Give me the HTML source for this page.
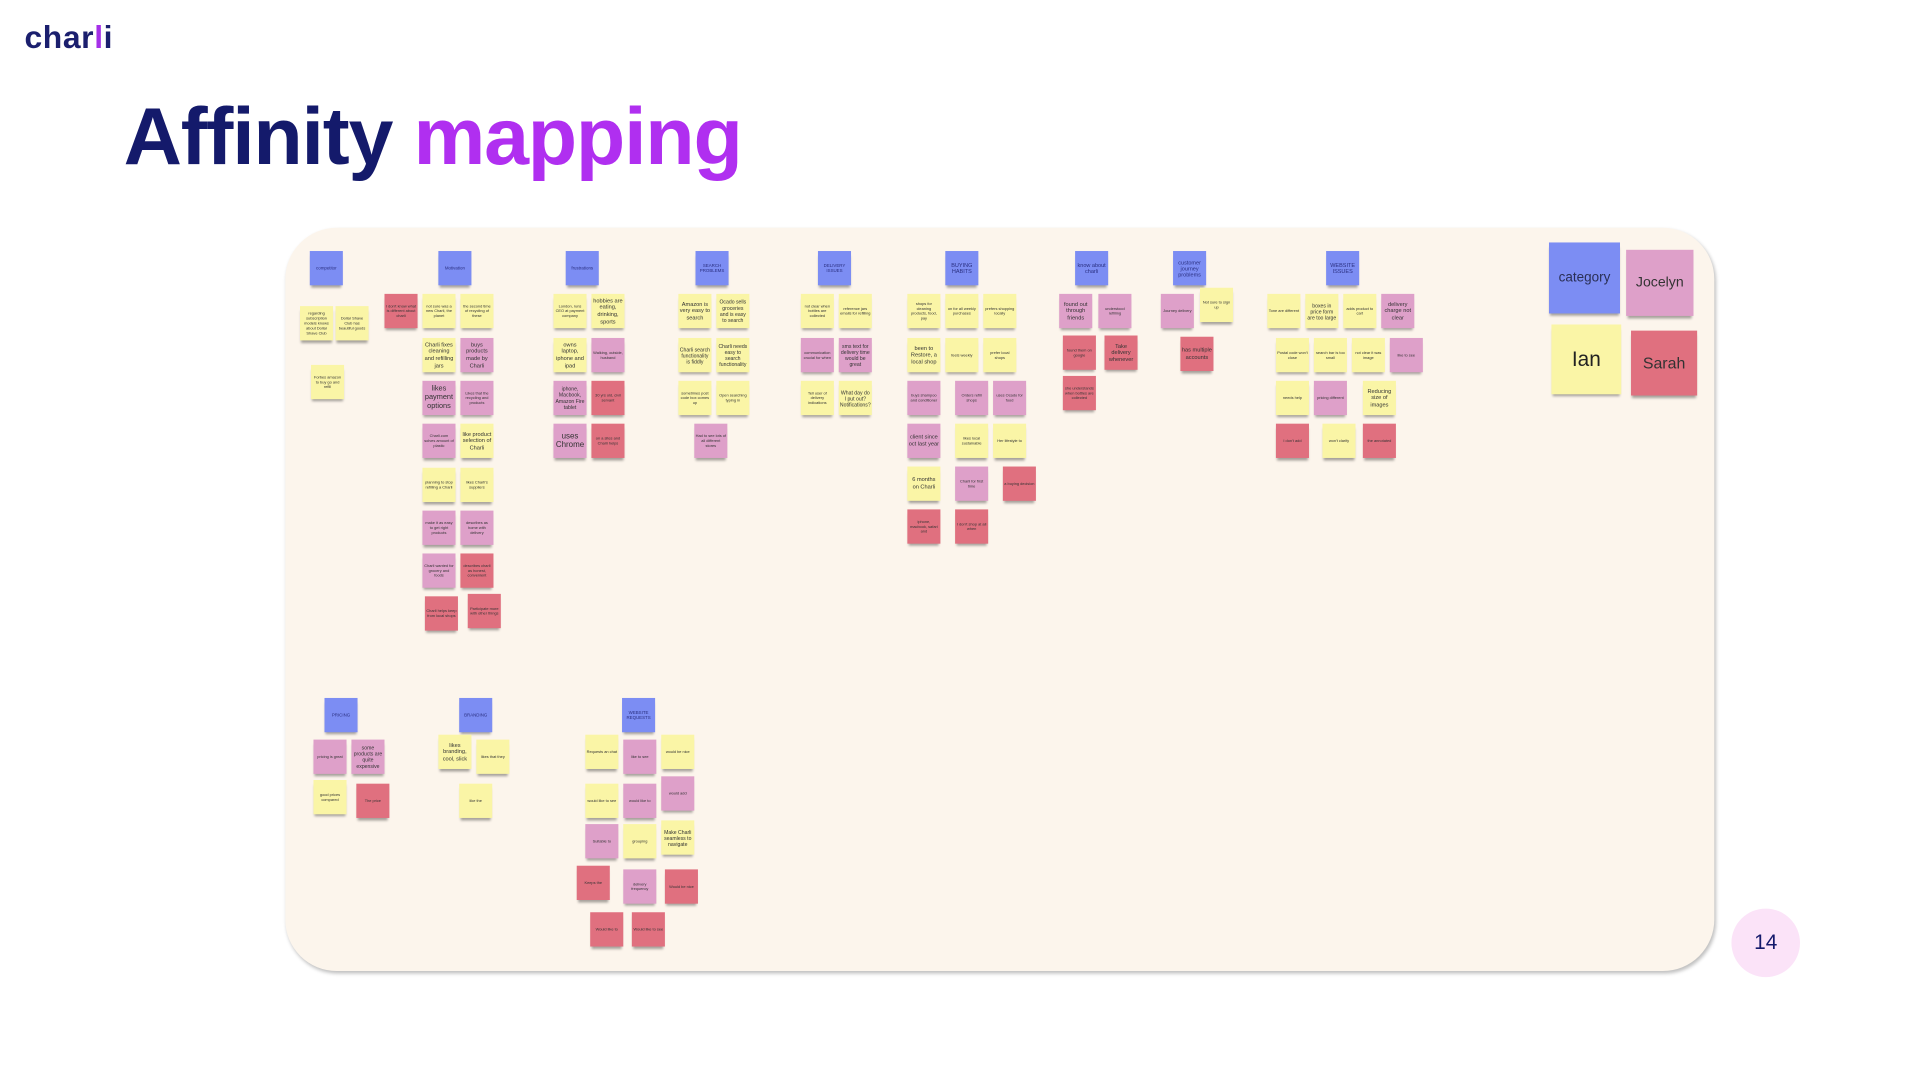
<!DOCTYPE html>
<html><head><meta charset="utf-8"><style>
html,body{margin:0;padding:0;background:#fff;width:1920px;height:1080px;overflow:hidden}
#w{position:absolute;left:0;top:0;width:1568px;height:882px;transform:scale(1.22449);transform-origin:0 0;font-family:"Liberation Sans",sans-serif}
.logo{position:absolute;left:20px;top:15px;font-size:26px;font-weight:bold;color:#1b1f6e;letter-spacing:0.5px}
.logo span{color:#a530e8}
.title{position:absolute;left:101px;top:73px;font-size:66px;font-weight:bold;color:#141a6b;letter-spacing:-1px;white-space:nowrap}
.title span{color:#b02ff0}
.board{position:absolute;left:233px;top:186px;width:1167px;height:607px;background:#fcf5ec;border-radius:42px;box-shadow:1px 2px 3px rgba(0,0,0,.25)}
.s{position:absolute;width:27px;height:28px;box-shadow:0 3px 2px -1px rgba(0,0,0,.35);font-size:3.2px;line-height:4px;color:#333;text-align:center;display:flex;align-items:center;justify-content:center;overflow:hidden;padding:1px;box-sizing:border-box}
.y{background:#faf5a6}.p{background:#dea0c9}.r{background:#e0707f}.b{background:#7c8df3;color:#2a2f80;font-size:3.6px}
.L{font-size:4.6px;line-height:5.6px}
.pg{position:absolute;left:1414px;top:742px;width:56px;height:56px;border-radius:50%;background:#fbe3f8;color:#141a6b;font-size:17px;text-align:center;line-height:56px}
</style></head><body><div id="w">
<div class="logo">char<span>l</span>i</div>
<div class="title">Affinity <span>mapping</span></div>
<div class="board"></div>

<div class="s b" style="left:253px;top:205px">competitor</div>
<div class="s b" style="left:358px;top:205px">Motivation</div>
<div class="s b" style="left:462px;top:205px">frustrations</div>
<div class="s b" style="left:568px;top:205px">SEARCH PROBLEMS</div>
<div class="s b" style="left:668px;top:205px">DELIVERY ISSUES</div>
<div class="s b" style="left:772px;top:205px;font-size:4.5px;line-height:5px">BUYING HABITS</div>
<div class="s b" style="left:878px;top:205px;font-size:4.5px;line-height:5px">know about charli</div>
<div class="s b" style="left:958px;top:205px;font-size:4.5px;line-height:5px">customer journey problems</div>
<div class="s b" style="left:1083px;top:205px;font-size:4.5px;line-height:5px">WEBSITE ISSUES</div>
<div class="s b" style="left:265px;top:570px">PRICING</div>
<div class="s b" style="left:375px;top:570px">BRANDING</div>
<div class="s b" style="left:508px;top:570px">WEBSITE REQUESTS</div>

<div class="s y" style="left:245px;top:250px">regarding subscription models knows about Dollar Shave Club</div>
<div class="s y" style="left:274px;top:250px">Dollar Shave Club has beautiful goods</div>
<div class="s y" style="left:254px;top:298px">Forbes amazon to buy go and refill</div>

<div class="s r" style="left:314px;top:240px">I don't know what is different about charli</div>
<div class="s y" style="left:345px;top:240px">not sure was a new Charli, the planet</div>
<div class="s y" style="left:376px;top:240px">the second time of recycling of these</div>
<div class="s y L" style="left:345px;top:276px">Charli fixes cleaning and refilling jars</div>
<div class="s p L" style="left:376px;top:276px">buys products made by Charli</div>
<div class="s p L" style="left:345px;top:311px;font-size:6px;line-height:7px">likes payment options</div>
<div class="s p" style="left:376px;top:311px">Likes that the recycling and products</div>
<div class="s p" style="left:345px;top:346px">Charli.com solves amount of plastic</div>
<div class="s y L" style="left:376px;top:346px">like product selection of Charli</div>
<div class="s y" style="left:345px;top:382px">planning to stop refilling a Charli</div>
<div class="s y" style="left:376px;top:382px">likes Charli's suppliers</div>
<div class="s p" style="left:345px;top:417px">make it as easy to get right products</div>
<div class="s p" style="left:376px;top:417px">describes as home with delivery</div>
<div class="s p" style="left:345px;top:452px">Charli wanted for grocery and foods</div>
<div class="s r" style="left:376px;top:452px">describes charli as honest, convenient</div>
<div class="s r" style="left:347px;top:487px">Charli helps keep from local shops</div>
<div class="s r" style="left:382px;top:485px">Participate more with other things</div>

<div class="s y" style="left:452px;top:240px">London, runs CEO at payment company</div>
<div class="s y L" style="left:483px;top:240px">hobbies are eating, drinking, sports</div>
<div class="s y L" style="left:452px;top:276px">owns laptop, iphone and ipad</div>
<div class="s p" style="left:483px;top:276px">Walking, outside, husband</div>
<div class="s p L" style="left:452px;top:311px;font-size:4.2px;line-height:5px">iphone, Macbook, Amazon Fire tablet</div>
<div class="s r" style="left:483px;top:311px">30 yrs old, civil servant</div>
<div class="s p L" style="left:452px;top:346px;font-size:6.5px;line-height:7.5px">uses Chrome</div>
<div class="s r" style="left:483px;top:346px">on a sites and Charli helps</div>

<div class="s y L" style="left:554px;top:240px">Amazon is very easy to search</div>
<div class="s y L" style="left:585px;top:240px;font-size:4.2px;line-height:5px">Ocado sells groceries and is easy to search</div>
<div class="s y L" style="left:554px;top:276px;font-size:4.2px;line-height:5px">Charli search functionality is fiddly</div>
<div class="s y L" style="left:585px;top:276px;font-size:4.2px;line-height:5px">Charli needs easy to search functionality</div>
<div class="s y" style="left:554px;top:311px">sometimes post code box comes up</div>
<div class="s y" style="left:585px;top:311px">Open searching typing in</div>
<div class="s p" style="left:567px;top:346px">Had to see lots of all different stores</div>

<div class="s y" style="left:654px;top:240px">not clear when bottles are collected</div>
<div class="s y" style="left:685px;top:240px">reference jars emails for refilling</div>
<div class="s p" style="left:654px;top:276px">communication crucial for when</div>
<div class="s p L" style="left:685px;top:276px;font-size:4.2px;line-height:5px">sms text for delivery time would be great</div>
<div class="s y" style="left:654px;top:311px">Tell user of delivery indications</div>
<div class="s y L" style="left:685px;top:311px;font-size:4.2px;line-height:5px">What day do I put out? Notifications?</div>

<div class="s y" style="left:741px;top:240px">shops for cleaning products, food, pay</div>
<div class="s y" style="left:772px;top:240px">on for all weekly purchases</div>
<div class="s y" style="left:803px;top:240px">prefers shopping locally</div>
<div class="s y L" style="left:741px;top:276px">been to Restore, a local shop</div>
<div class="s y" style="left:772px;top:276px">feels weekly</div>
<div class="s y" style="left:803px;top:276px">prefer local shops</div>
<div class="s p" style="left:741px;top:311px">buys shampoo and conditioner</div>
<div class="s p" style="left:780px;top:311px">Orders refill shops</div>
<div class="s p" style="left:811px;top:311px">uses Ocado for food</div>
<div class="s p L" style="left:741px;top:346px">client since oct last year</div>
<div class="s y" style="left:780px;top:346px">likes local sustainable</div>
<div class="s y" style="left:811px;top:346px">Her lifestyle to</div>
<div class="s y L" style="left:741px;top:381px">6 months on Charli</div>
<div class="s p" style="left:780px;top:381px">Charli for first time</div>
<div class="s r" style="left:819px;top:381px">a buying decision</div>
<div class="s r" style="left:741px;top:416px">iphone, macbook, safari and</div>
<div class="s r" style="left:780px;top:416px">I don't shop at all when</div>

<div class="s p L" style="left:865px;top:240px">found out through friends</div>
<div class="s p" style="left:897px;top:240px">understood refilling</div>
<div class="s r" style="left:868px;top:274px">found them on google</div>
<div class="s r L" style="left:902px;top:274px">Take delivery whenever</div>
<div class="s r" style="left:868px;top:307px">she understands when bottles are collected</div>

<div class="s p" style="left:948px;top:240px">Journey delivery</div>
<div class="s y" style="left:980px;top:235px">Not sure to sign up</div>
<div class="s r L" style="left:964px;top:275px">has multiple accounts</div>

<div class="s y" style="left:1035px;top:240px">Tone are different</div>
<div class="s y L" style="left:1066px;top:240px;font-size:4.2px;line-height:5px">boxes in price form are too large</div>
<div class="s y" style="left:1097px;top:240px">adds product to cart</div>
<div class="s p L" style="left:1128px;top:240px">delivery charge not clear</div>
<div class="s y" style="left:1042px;top:276px">Postal code won't close</div>
<div class="s y" style="left:1073px;top:276px">search bar is too small</div>
<div class="s y" style="left:1104px;top:276px">not clear it was image</div>
<div class="s p" style="left:1135px;top:276px">like to see</div>
<div class="s y" style="left:1042px;top:311px">needs help</div>
<div class="s p" style="left:1073px;top:311px">pricing different</div>
<div class="s y L" style="left:1113px;top:311px">Reducing size of images</div>
<div class="s r" style="left:1042px;top:346px">I don't add</div>
<div class="s y" style="left:1080px;top:346px">won't clarify</div>
<div class="s r" style="left:1113px;top:346px">the annotated</div>

<div class="s p" style="left:256px;top:604px">pricing is great</div>
<div class="s p L" style="left:287px;top:604px;font-size:4.2px;line-height:5px">some products are quite expensive</div>
<div class="s y" style="left:256px;top:637px">good prices compared</div>
<div class="s r" style="left:291px;top:640px">The price</div>

<div class="s y L" style="left:358px;top:600px">likes branding, cool, slick</div>
<div class="s y" style="left:389px;top:604px">likes that they</div>
<div class="s y" style="left:375px;top:640px">like the</div>

<div class="s y" style="left:478px;top:600px">Requests an chat</div>
<div class="s p" style="left:509px;top:604px">like to see</div>
<div class="s y" style="left:540px;top:600px">would be nice</div>
<div class="s y" style="left:478px;top:640px">would like to see</div>
<div class="s p" style="left:509px;top:640px">would like to</div>
<div class="s p" style="left:540px;top:634px">would add</div>
<div class="s p" style="left:478px;top:673px">Suitable to</div>
<div class="s y" style="left:509px;top:673px">grouping</div>
<div class="s y L" style="left:540px;top:670px;font-size:4.2px;line-height:5px">Make Charli seamless to navigate</div>
<div class="s r" style="left:471px;top:707px">Keeps the</div>
<div class="s p" style="left:509px;top:710px">delivery frequency</div>
<div class="s r" style="left:543px;top:710px">Would be nice</div>
<div class="s r" style="left:482px;top:745px">Would like to</div>
<div class="s r" style="left:516px;top:745px">Would like to see</div>

<div class="s b" style="left:1265px;top:198px;width:58px;height:58px;font-size:11px;color:#2a2f55">category</div>
<div class="s p" style="left:1328px;top:204px;width:55px;height:54px;font-size:11.5px;color:#333">Jocelyn</div>
<div class="s y" style="left:1267px;top:265px;width:57px;height:57px;font-size:17px;color:#222">Ian</div>
<div class="s r" style="left:1332px;top:270px;width:54px;height:53px;font-size:13px;color:#333">Sarah</div>

<div class="pg">14</div>
</div></body></html>
